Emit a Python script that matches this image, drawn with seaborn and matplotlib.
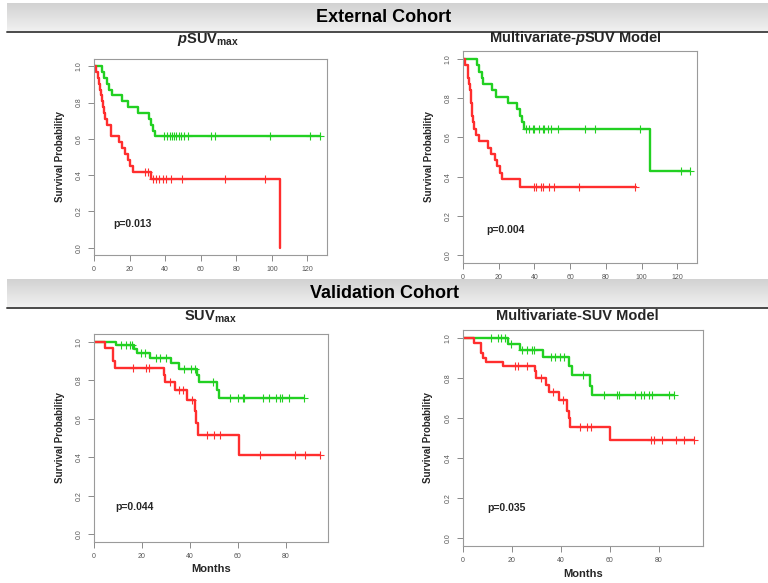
import numpy as np
import matplotlib.pyplot as plt
import seaborn as sns
from matplotlib import font_manager

sns.set_theme(style="ticks")

# pick a condensed bold face if the box has one
installed = {f.name for f in font_manager.fontManager.ttflist}
face = 'Liberation Sans Narrow' if 'Liberation Sans Narrow' in installed else 'Liberation Sans'
plt.rcParams['font.family'] = [face, 'DejaVu Sans']
plt.rcParams['mathtext.fontset'] = 'custom'
plt.rcParams['mathtext.rm'] = face + ':bold'
plt.rcParams['mathtext.it'] = face + ':italic:bold'
plt.rcParams['mathtext.bf'] = face + ':bold'

GREEN = '#22d022'
RED = '#ff2e2e'

# ---- External cohort, pSUVmax ----
ext_psuv_green_t = [4.3, 5.8, 7.5, 8.5, 10.4, 15.7, 18.9, 25.0, 30.8, 31.9, 33.0, 34.5]
ext_psuv_green_s = [0.968, 0.935, 0.903, 0.871, 0.839, 0.806, 0.774, 0.742, 0.710, 0.677, 0.645, 0.613]
ext_psuv_green_cens = [39.6, 40.9, 42.5, 43.6, 45.0, 46.2, 47.7, 49.0, 50.4, 52.8, 65.7, 67.9, 98.7, 121.7, 127.0]
ext_psuv_green_end = 127.0
ext_psuv_red_t = [1.3, 2.5, 3.0, 3.4, 4.0, 4.5, 5.0, 5.5, 6.0, 7.5, 9.8, 14.1, 16.0, 17.5, 19.2, 20.2, 21.7, 32.0, 104.7]
ext_psuv_red_s = [0.968, 0.935, 0.903, 0.871, 0.839, 0.806, 0.774, 0.742, 0.710, 0.677, 0.613, 0.581, 0.548, 0.516, 0.484, 0.452, 0.419, 0.381, 0.0]
ext_psuv_red_cens = [28.9, 30.2, 33.0, 34.9, 36.8, 38.7, 40.6, 43.4, 49.6, 73.6, 96.2]
ext_psuv_red_end = 104.7

# ---- External cohort, multivariate pSUV ----
ext_msuv_green_t = [7.9, 8.9, 10.4, 11.2, 16.4, 18.3, 25.2, 30.5, 31.8, 33.0, 34.3, 104.5]
ext_msuv_green_s = [0.968, 0.935, 0.903, 0.871, 0.839, 0.806, 0.774, 0.742, 0.710, 0.677, 0.645, 0.430]
ext_msuv_green_cens = [35.2, 37.1, 39.0, 39.9, 42.4, 44.6, 45.6, 47.5, 49.3, 53.1, 68.2, 73.8, 98.9, 121.8, 127.1]
ext_msuv_green_end = 127.1
ext_msuv_red_t = [1.0, 2.6, 2.8, 3.4, 3.8, 4.2, 4.6, 5.0, 5.2, 5.6, 5.9, 7.3, 8.9, 14.1, 15.6, 17.7, 19.2, 20.5, 21.7, 32.0]
ext_msuv_red_s = [0.968, 0.935, 0.903, 0.871, 0.839, 0.806, 0.774, 0.742, 0.710, 0.677, 0.645, 0.613, 0.581, 0.548, 0.516, 0.484, 0.452, 0.419, 0.387, 0.348]
ext_msuv_red_cens = [39.9, 40.9, 43.7, 44.6, 48.4, 50.7, 65.0, 96.4]
ext_msuv_red_end = 97.0

# ---- Validation cohort, SUVmax ----
val_suv_green_t = [9.0, 16.5, 18.0, 23.2, 32.2, 35.4, 42.9, 43.7, 51.2, 52.0]
val_suv_green_s = [0.983, 0.964, 0.943, 0.917, 0.891, 0.860, 0.825, 0.790, 0.749, 0.709]
val_suv_green_cens = [11.4, 13.5, 15.1, 15.9, 19.7, 21.1, 25.9, 27.3, 30.1, 37.3, 40.5, 41.9, 49.5,
                      56.7, 59.9, 62.0, 62.7, 70.3, 73.1, 75.9, 77.3, 78.4, 81.4, 87.7]
val_suv_green_end = 87.7
val_suv_red_t = [4.4, 7.9, 8.6, 29.0, 29.7, 33.6, 38.7, 41.9, 42.6, 43.3, 60.3]
val_suv_red_s = [0.965, 0.900, 0.865, 0.825, 0.790, 0.749, 0.695, 0.640, 0.580, 0.514, 0.410]
val_suv_red_cens = [16.2, 21.5, 22.9, 31.5, 35.5, 37.2, 40.8, 47.0, 50.2, 52.3, 69.0, 83.9, 88.1, 94.0]
val_suv_red_end = 94.0

# ---- Validation cohort, multivariate SUV ----
val_msuv_green_t = [18.5, 23.3, 32.8, 43.1, 44.5, 51.7, 52.7]
val_msuv_green_s = [0.970, 0.940, 0.906, 0.860, 0.815, 0.762, 0.713]
val_msuv_green_cens = [11.6, 14.4, 15.7, 17.1, 19.8, 23.9, 26.0, 28.0, 29.0, 35.8, 37.6, 39.7, 41.3, 49.2,
                       57.5, 62.9, 63.6, 70.4, 72.5, 73.9, 75.9, 77.3, 84.1, 86.2]
val_msuv_green_end = 86.2
val_msuv_red_t = [4.5, 7.5, 8.2, 9.2, 16.4, 29.4, 29.8, 33.9, 35.3, 39.0, 42.4, 43.1, 43.8, 60.2]
val_msuv_red_s = [0.975, 0.927, 0.902, 0.880, 0.860, 0.835, 0.798, 0.767, 0.730, 0.691, 0.637, 0.600, 0.556, 0.489]
val_msuv_red_cens = [21.2, 22.3, 26.0, 32.0, 36.9, 40.8, 47.6, 50.6, 52.3, 76.6, 78.0, 81.4, 86.9, 90.3, 94.4]
val_msuv_red_end = 94.4

p_values = ['p=0.013', 'p=0.004', 'p=0.044', 'p=0.035']


def draw_km(ax, times, surv, end, cens, color):
    """Kaplan-Meier style step curve with '+' censor marks."""
    times = np.asarray(times)
    levels = np.concatenate([[1.0], surv])
    x = np.concatenate([[0.0], times, [end]])
    y = np.concatenate([levels, [surv[-1]]])
    sns.lineplot(x=x, y=y, ax=ax, color=color, lw=1.7, drawstyle='steps-post',
                 estimator=None, sort=False)
    idx = np.searchsorted(times, cens, side='right')
    sns.scatterplot(x=cens, y=levels[idx], ax=ax, marker='+', color=color,
                    s=26, linewidth=0.8, zorder=3)


def style_axes(ax, xmax, xticks, months=False):
    ax.set_xlim(0, xmax)
    ax.set_ylim(-0.04, 1.04)
    ax.set_xticks(xticks)
    ax.set_yticks(np.arange(0, 1.01, 0.2))
    ax.set_yticklabels([f'{v:.1f}' for v in np.arange(0, 1.01, 0.2)],
                       rotation=90, va='center')
    ax.tick_params(labelsize=5, colors='#777', labelcolor='#555',
                   length=4, width=0.6, pad=4)
    for sp in ax.spines.values():
        sp.set_visible(True)
        sp.set_color('#9a9a9a')
        sp.set_linewidth(0.8)
    ax.set_ylabel('Survival Probability', fontsize=7, fontweight='bold')
    ax.yaxis.set_label_coords(-0.125, 0.5)
    ax.set_xlabel('Months' if months else '', fontsize=8, fontweight='bold')
    if months:
        ax.xaxis.set_label_coords(0.5, -0.105)


fig = plt.figure(figsize=(7.68, 5.83), dpi=100)

# header bands
bg = fig.add_axes([0, 0, 1, 1], zorder=-5)
bg.axis('off')
grad = np.linspace(0, 1, 50).reshape(-1, 1)
for top, bot, label in [(3, 31, 'External Cohort'), (279, 307, 'Validation Cohort')]:
    bg.imshow(grad, extent=[7, 768, bot, top],
              cmap=sns.light_palette('#d2d2d2', reverse=True, as_cmap=True), aspect='auto')
    bg.plot([7, 768], [bot + 0.5, bot + 0.5], color='#4a4a4a', lw=1.4)
    bg.text(384, (top + bot) / 2 + 1, label, ha='center', va='center',
            fontsize=13, fontweight='bold', color='black')
bg.set_xlim(0, 768)
bg.set_ylim(583, 0)

W, H = 768, 583
boxes = [(94, 327, 59, 255), (463, 697, 51, 263), (94, 328, 334, 542), (463, 703, 330, 546)]
axes = [fig.add_axes([l / W, 1 - b / H, (r - l) / W, (b - t) / H]) for l, r, t, b in boxes]

panels = [
    (ext_psuv_green_t, ext_psuv_green_s, ext_psuv_green_end, ext_psuv_green_cens,
     ext_psuv_red_t, ext_psuv_red_s, ext_psuv_red_end, ext_psuv_red_cens),
    (ext_msuv_green_t, ext_msuv_green_s, ext_msuv_green_end, ext_msuv_green_cens,
     ext_msuv_red_t, ext_msuv_red_s, ext_msuv_red_end, ext_msuv_red_cens),
    (val_suv_green_t, val_suv_green_s, val_suv_green_end, val_suv_green_cens,
     val_suv_red_t, val_suv_red_s, val_suv_red_end, val_suv_red_cens),
    (val_msuv_green_t, val_msuv_green_s, val_msuv_green_end, val_msuv_green_cens,
     val_msuv_red_t, val_msuv_red_s, val_msuv_red_end, val_msuv_red_cens),
]
xmaxes = [131, 131, 97.5, 98]
xtick_sets = [range(0, 121, 20), range(0, 121, 20), range(0, 81, 20), range(0, 81, 20)]
p_pos = [(11, 0.13), (13, 0.13), (8.7, 0.14), (10, 0.15)]

for i, (ax, pdata) in enumerate(zip(axes, panels)):
    gt, gs, ge, gc, rt, rs, re_, rc = pdata
    draw_km(ax, gt, gs, ge, gc, GREEN)
    draw_km(ax, rt, rs, re_, rc, RED)
    style_axes(ax, xmaxes[i], list(xtick_sets[i]), months=(i >= 2))
    ax.text(p_pos[i][0], p_pos[i][1], p_values[i], fontsize=7.5, fontweight='bold',
            ha='left', va='center')

titles = [(r'$\mathit{p}\mathrm{SUV}_{\mathrm{max}}$', 208, 40),
          (r'Multivariate-$\mathit{p}$SUV Model', 575, 38),
          (r'$\mathrm{SUV}_{\mathrm{max}}$', 210, 317),
          ('Multivariate-SUV Model', 577, 316)]
for txt, x, y in titles:
    fig.text(x / W, 1 - y / H, txt, ha='center', va='center', fontsize=10.5,
             fontweight='bold')

fig.savefig('out.png', dpi=100)
